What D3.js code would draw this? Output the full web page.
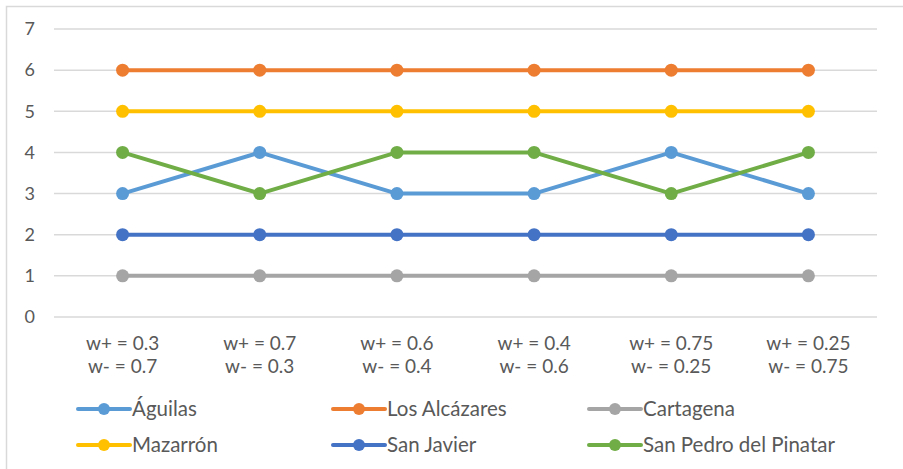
<!DOCTYPE html>
<html><head><meta charset="utf-8">
<script src="https://cdn.jsdelivr.net/npm/d3@7"></script>
<style>html,body{margin:0;padding:0;background:#fff;}svg{display:block;}</style>
</head><body>
<svg id="c" width="903" height="469"></svg>
<script>
const categories = [["w+ = 0.3","w- = 0.7"],["w+ = 0.7","w- = 0.3"],["w+ = 0.6","w- = 0.4"],["w+ = 0.4","w- = 0.6"],["w+ = 0.75","w- = 0.25"],["w+ = 0.25","w- = 0.75"]];
const seriesNames = ["Águilas","Los Alcázares","Cartagena","Mazarrón","San Javier","San Pedro del Pinatar"];
const seriesColors = ["#5B9BD5","#ED7D31","#A5A5A5","#FFC000","#4472C4","#70AD47"];
const aguilas = [3,4,3,3,4,3];
const losAlcazares = [6,6,6,6,6,6];
const cartagena = [1,1,1,1,1,1];
const mazarron = [5,5,5,5,5,5];
const sanJavier = [2,2,2,2,2,2];
const sanPedro = [4,3,4,4,3,4];
const yTicks = [0,1,2,3,4,5,6,7];

const seriesValues = [aguilas, losAlcazares, cartagena, mazarron, sanJavier, sanPedro];
const svg = d3.select("#c");
const font = "Lato, 'Open Sans', sans-serif";
const textColor = "#595959";

// outer border
svg.append("rect").attr("x",6.5).attr("y",6.5).attr("width",910).attr("height",480)
  .attr("fill","none").attr("stroke","#d9d9d9").attr("stroke-width",1.5);

const x = d3.scaleBand().domain(d3.range(categories.length)).range([54,877]);
const y = d3.scaleLinear().domain([0,7]).range([317,29]);

// grid
svg.append("g").selectAll("line").data(yTicks).join("line")
  .attr("x1",54).attr("x2",877)
  .attr("y1",d=>y(d)).attr("y2",d=>y(d))
  .attr("stroke","#d9d9d9").attr("stroke-width",1.5);

// y labels
svg.append("g").selectAll("text").data(yTicks).join("text")
  .attr("x",35).attr("y",d=>y(d)).attr("dy","0.35em")
  .attr("text-anchor","end").attr("font-family",font).attr("font-size",18)
  .attr("fill",textColor).text(d=>d);

// x labels
const xl = svg.append("g").selectAll("text").data(categories).join("text")
  .attr("font-family",font).attr("font-size",19).attr("fill",textColor)
  .attr("text-anchor","middle");
xl.append("tspan").attr("x",(d,i)=>x(i)+x.bandwidth()/2).attr("y",343).attr("dy","0.35em").text(d=>d[0]);
xl.append("tspan").attr("x",(d,i)=>x(i)+x.bandwidth()/2).attr("y",366).attr("dy","0.35em").text(d=>d[1]);

const cx = i => x(i)+x.bandwidth()/2;
const line = d3.line().x((d,i)=>cx(i)).y(d=>y(d));

seriesValues.forEach((vals,si)=>{
  const g = svg.append("g");
  g.append("path").attr("d",line(vals)).attr("fill","none")
    .attr("stroke",seriesColors[si]).attr("stroke-width",4).attr("stroke-linejoin","round");
  g.selectAll("circle").data(vals).join("circle")
    .attr("cx",(d,i)=>cx(i)).attr("cy",d=>y(d)).attr("r",6.5).attr("fill",seriesColors[si]);
});

// legend
const legX = [78,333,589];
const legY = [409,445];
seriesNames.forEach((name,i)=>{
  const lx = legX[i%3], ly = legY[Math.floor(i/3)];
  const g = svg.append("g");
  g.append("line").attr("x1",lx).attr("x2",lx+52).attr("y1",ly).attr("y2",ly)
    .attr("stroke",seriesColors[i]).attr("stroke-width",4).attr("stroke-linecap","round");
  g.append("circle").attr("cx",lx+26).attr("cy",ly).attr("r",6).attr("fill",seriesColors[i]);
  g.append("text").attr("x",lx+54).attr("y",ly).attr("dy","0.35em")
    .attr("font-family",font).attr("font-size",20.5).attr("fill",textColor).text(name);
});
</script>
</body></html>
